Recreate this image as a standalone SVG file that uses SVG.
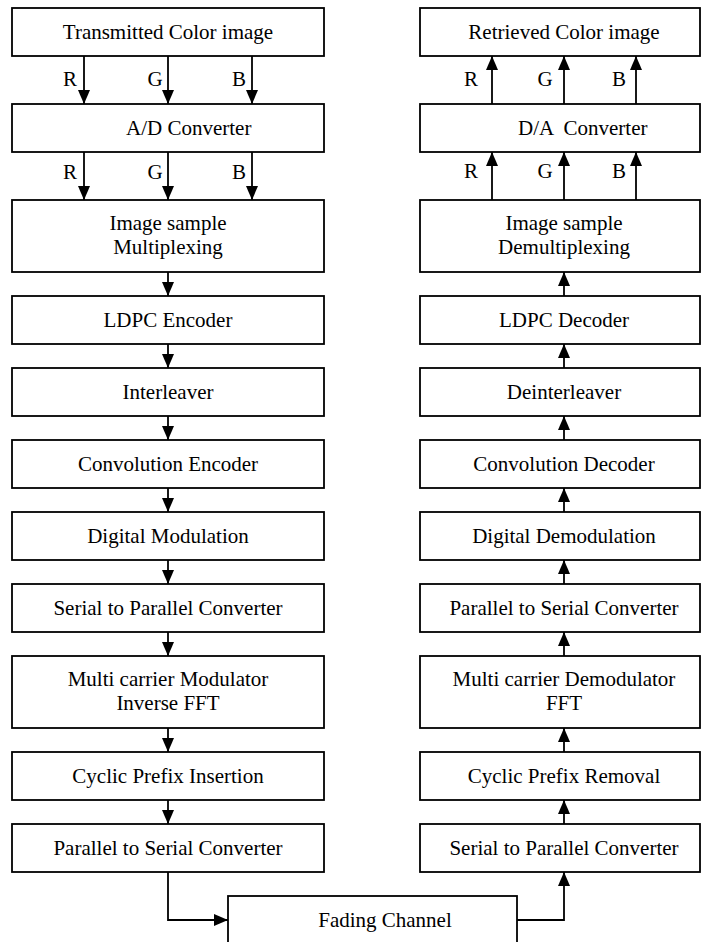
<svg xmlns="http://www.w3.org/2000/svg" width="701" height="942" viewBox="0 0 701 942">
<style>
rect{fill:#fff;stroke:#000;stroke-width:1.8}
text{font-family:"Liberation Serif","Times New Roman",serif;font-size:21px;fill:#000;text-anchor:middle}
.c path{fill:none;stroke:#000;stroke-width:1.8}
</style>
<defs>
<marker id="ah" markerUnits="userSpaceOnUse" markerWidth="14" markerHeight="12" viewBox="0 0 14 12" refX="14" refY="6" orient="auto"><path d="M0,0 L14,6 L0,12 z" fill="#000"/></marker>
</defs>
<rect x="0" y="0" width="701" height="942" style="stroke:none"/>
<g id="tx1"><rect x="12" y="8" width="312" height="48"/><text x="168" y="39">Transmitted Color image</text></g>
<g id="tx2"><rect x="12" y="104" width="312" height="48"/><text x="126" y="135" style="text-anchor:start">A/D Converter</text></g>
<g id="tx3"><rect x="12" y="200" width="312" height="72"/><text x="168" y="230">Image sample</text><text x="168" y="254">Multiplexing</text></g>
<g id="tx4"><rect x="12" y="296" width="312" height="48"/><text x="168" y="327">LDPC Encoder</text></g>
<g id="tx5"><rect x="12" y="368" width="312" height="48"/><text x="168" y="399">Interleaver</text></g>
<g id="tx6"><rect x="12" y="440" width="312" height="48"/><text x="168" y="471">Convolution Encoder</text></g>
<g id="tx7"><rect x="12" y="512" width="312" height="48"/><text x="168" y="543">Digital Modulation</text></g>
<g id="tx8"><rect x="12" y="584" width="312" height="48"/><text x="168" y="615">Serial to Parallel Converter</text></g>
<g id="tx9"><rect x="12" y="656" width="312" height="72"/><text x="168" y="686">Multi carrier Modulator</text><text x="168" y="710">Inverse FFT</text></g>
<g id="tx10"><rect x="12" y="752" width="312" height="48"/><text x="168" y="783">Cyclic Prefix Insertion</text></g>
<g id="tx11"><rect x="12" y="824" width="312" height="48"/><text x="168" y="855">Parallel to Serial Converter</text></g>
<g id="rx1"><rect x="420" y="8" width="280" height="48"/><text x="564" y="39">Retrieved Color image</text></g>
<g id="rx2"><rect x="420" y="104" width="280" height="48"/><text x="518" y="135" style="text-anchor:start" xml:space="preserve">D/A  Converter</text></g>
<g id="rx3"><rect x="420" y="200" width="280" height="72"/><text x="564" y="230">Image sample</text><text x="564" y="254">Demultiplexing</text></g>
<g id="rx4"><rect x="420" y="296" width="280" height="48"/><text x="564" y="327">LDPC Decoder</text></g>
<g id="rx5"><rect x="420" y="368" width="280" height="48"/><text x="564" y="399">Deinterleaver</text></g>
<g id="rx6"><rect x="420" y="440" width="280" height="48"/><text x="564" y="471">Convolution Decoder</text></g>
<g id="rx7"><rect x="420" y="512" width="280" height="48"/><text x="564" y="543">Digital Demodulation</text></g>
<g id="rx8"><rect x="420" y="584" width="280" height="48"/><text x="564" y="615">Parallel to Serial Converter</text></g>
<g id="rx9"><rect x="420" y="656" width="280" height="72"/><text x="564" y="686">Multi carrier Demodulator</text><text x="564" y="710">FFT</text></g>
<g id="rx10"><rect x="420" y="752" width="280" height="48"/><text x="564" y="783">Cyclic Prefix Removal</text></g>
<g id="rx11"><rect x="420" y="824" width="280" height="48"/><text x="564" y="855">Serial to Parallel Converter</text></g>
<g id="fading"><rect x="228" y="896" width="289" height="60"/><text x="385" y="927">Fading Channel</text></g>
<g class="c" id="connectors">
<g marker-end="url(#ah)">
<path d="M84,56 V104"/><path d="M168,56 V104"/><path d="M252,56 V104"/>
<path d="M84,152 V200"/><path d="M168,152 V200"/><path d="M252,152 V200"/>
<path d="M168,272 V296"/><path d="M168,344 V368"/><path d="M168,416 V440"/><path d="M168,488 V512"/>
<path d="M168,560 V584"/><path d="M168,632 V656"/><path d="M168,728 V752"/><path d="M168,800 V824"/>
<path d="M168,872 V920 H228"/>
<path d="M517,920 H564 V872"/>
<path d="M564,824 V800"/><path d="M564,752 V728"/><path d="M564,656 V632"/><path d="M564,584 V560"/>
<path d="M564,512 V488"/><path d="M564,440 V416"/><path d="M564,368 V344"/><path d="M564,296 V272"/>
<path d="M492,200 V152"/><path d="M564,200 V152"/><path d="M636,200 V152"/>
<path d="M492,104 V56"/><path d="M564,104 V56"/><path d="M636,104 V56"/>
</g>
<text x="70" y="86">R</text><text x="155" y="86">G</text><text x="239" y="86">B</text>
<text x="70" y="179">R</text><text x="155" y="179">G</text><text x="239" y="179">B</text>
<text x="471" y="86">R</text><text x="545" y="86">G</text><text x="619" y="86">B</text>
<text x="471" y="178">R</text><text x="545" y="178">G</text><text x="619" y="178">B</text>
</g>
</svg>
